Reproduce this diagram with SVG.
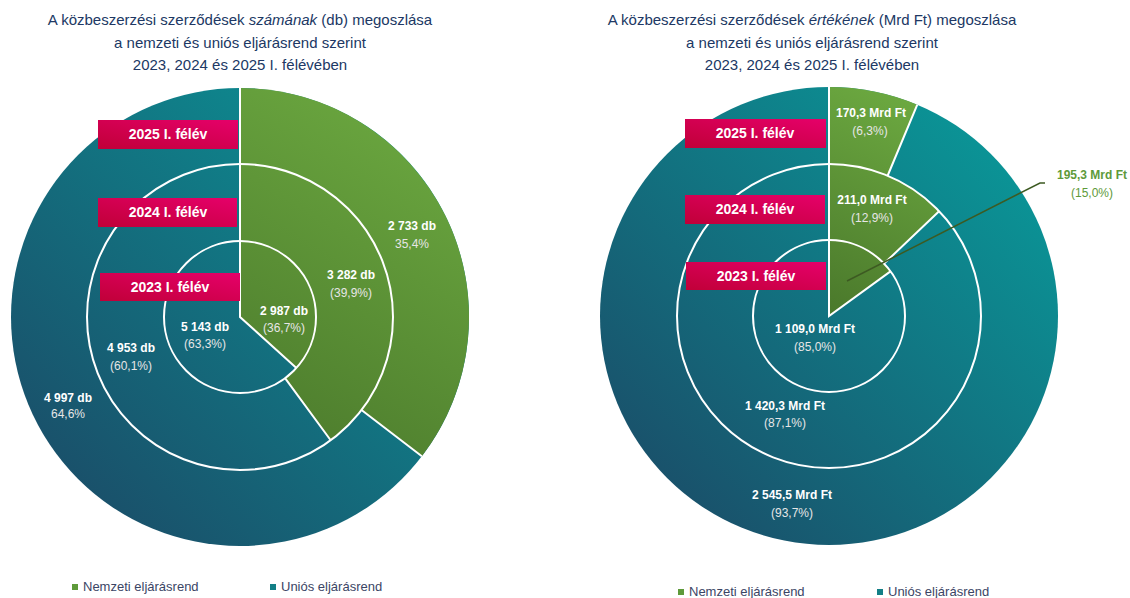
<svg xmlns="http://www.w3.org/2000/svg" width="1130" height="598" viewBox="0 0 1130 598">
<defs>
<linearGradient id="tealL" gradientUnits="userSpaceOnUse" x1="469" y1="88" x2="11" y2="546"><stop offset="0" stop-color="#0a9a9a"/><stop offset="1" stop-color="#1c4563"/></linearGradient>
<linearGradient id="greenL" gradientUnits="userSpaceOnUse" x1="469" y1="88" x2="240" y2="460"><stop offset="0" stop-color="#6fad42"/><stop offset="1" stop-color="#4a782b"/></linearGradient>
<linearGradient id="tealR" gradientUnits="userSpaceOnUse" x1="1058" y1="87" x2="600" y2="545"><stop offset="0" stop-color="#08a09e"/><stop offset="1" stop-color="#1c4563"/></linearGradient>
<linearGradient id="greenR" gradientUnits="userSpaceOnUse" x1="940" y1="90" x2="829" y2="316"><stop offset="0" stop-color="#6fad42"/><stop offset="1" stop-color="#4a782b"/></linearGradient>
<linearGradient id="box" x1="0" y1="1" x2="1" y2="0"><stop offset="0" stop-color="#c00038"/><stop offset="1" stop-color="#e6006a"/></linearGradient>
<style>
.title{font-family:"Liberation Sans",Arial,sans-serif;font-size:15px;fill:#203864;text-anchor:middle}
.sep{stroke:#fff;stroke-width:2;fill:none}
.bx{fill:url(#box)}
.bt{font-family:"Liberation Sans",Arial,sans-serif;font-size:14px;font-weight:bold;fill:#fff;text-anchor:middle}
.v{font-family:"Liberation Sans",Arial,sans-serif;font-size:12px;font-weight:bold;fill:#fff;text-anchor:middle}
.p{font-family:"Liberation Sans",Arial,sans-serif;font-size:12px;fill:#e6e6e6;text-anchor:middle}
.gv{font-family:"Liberation Sans",Arial,sans-serif;font-size:12px;font-weight:bold;fill:#5e9a3a;text-anchor:middle}
.gp{font-family:"Liberation Sans",Arial,sans-serif;font-size:12px;fill:#5e9a3a;text-anchor:middle}
.lg{font-family:"Liberation Sans",Arial,sans-serif;font-size:13px;fill:#3b4565}
</style>
</defs>
<rect width="1130" height="598" fill="#fff"/>

<g id="title-left">
<text class="title" x="240" y="25">A közbeszerzési szerződések <tspan font-style="italic">számának</tspan> (db) megoszlása</text>
<text class="title" x="240" y="48">a nemzeti és uniós eljárásrend szerint</text>
<text class="title" x="240" y="70">2023, 2024 és 2025 I. félévében</text>
</g>
<g id="title-right">
<text class="title" x="812" y="25">A közbeszerzési szerződések <tspan font-style="italic">értékének</tspan> (Mrd Ft) megoszlása</text>
<text class="title" x="812" y="48">a nemzeti és uniós eljárásrend szerint</text>
<text class="title" x="812" y="70">2023, 2024 és 2025 I. félévében</text>
</g>

<g id="left-2025">
<circle cx="240" cy="317" r="229" fill="url(#tealL)"/>
<path d="M240,317 L240,88 A229,229 0 0 1 421.85,456.21 Z" fill="url(#greenL)"/>
</g>
<g id="left-2024">
<circle cx="240" cy="317" r="153" fill="url(#tealL)"/>
<path d="M240,317 L240,164 A153,153 0 0 1 330.68,440.23 Z" fill="url(#greenL)"/>
</g>
<g id="left-2023">
<circle cx="240" cy="317" r="76" fill="url(#tealL)"/>
<path d="M240,317 L240,241 A76,76 0 0 1 296.38,367.97 Z" fill="url(#greenL)"/>
</g>
<g id="left-separators">
<circle class="sep" cx="240" cy="317" r="153"/>
<circle class="sep" cx="240" cy="317" r="76"/>
<path class="sep" d="M240,88 L240,317 L296.38,367.97 M285.05,378.21 L330.68,440.23 M361.5,410.01 L421.85,456.21"/>
</g>

<g id="right-2025">
<circle cx="829" cy="316" r="229" fill="url(#tealR)"/>
<path d="M829,316 L829,87 A229,229 0 0 1 917.3,104.7 Z" fill="url(#greenR)"/>
</g>
<g id="right-2024">
<circle cx="829" cy="316" r="152" fill="url(#tealR)"/>
<path d="M829,316 L829,164 A152,152 0 0 1 939.08,211.18 Z" fill="url(#greenR)"/>
</g>
<g id="right-2023">
<circle cx="829" cy="316" r="76" fill="url(#tealR)"/>
<path d="M829,316 L829,240 A76,76 0 0 1 890.49,271.33 Z" fill="url(#greenR)"/>
</g>
<g id="right-separators">
<circle class="sep" cx="829" cy="316" r="152"/>
<circle class="sep" cx="829" cy="316" r="76"/>
<path class="sep" d="M829,87 L829,316 L890.49,271.33 M884.04,263.59 L939.08,211.18 M887.61,175.75 L917.3,104.7"/>
</g>

<g id="connectors">
<path d="M847,281 L1040,183 L1045,183" fill="none" stroke="#3d5a22" stroke-width="1.5"/>
</g>

<g id="left-year-boxes">
<rect class="bx" x="98" y="120" width="140" height="29"/>
<text class="bt" x="168" y="139">2025 I. félév</text>
<rect class="bx" x="98" y="198" width="139" height="29"/>
<text class="bt" x="168" y="217">2024 I. félév</text>
<rect class="bx" x="100" y="273" width="140" height="28"/>
<text class="bt" x="170" y="292">2023 I. félév</text>
</g>
<g id="right-year-boxes">
<rect class="bx" x="685" y="119" width="141" height="29"/>
<text class="bt" x="755" y="138">2025 I. félév</text>
<rect class="bx" x="685" y="195" width="140" height="29"/>
<text class="bt" x="755" y="214">2024 I. félév</text>
<rect class="bx" x="686" y="262" width="140" height="28"/>
<text class="bt" x="756" y="281">2023 I. félév</text>
</g>

<g id="left-labels">
<text class="v" x="412" y="230">2 733 db</text><text class="p" x="412" y="248">35,4%</text>
<text class="v" x="351" y="279">3 282 db</text><text class="p" x="351" y="297">(39,9%)</text>
<text class="v" x="284" y="315">2 987 db</text><text class="p" x="284" y="332">(36,7%)</text>
<text class="v" x="205" y="331">5 143 db</text><text class="p" x="205" y="348">(63,3%)</text>
<text class="v" x="131" y="352">4 953 db</text><text class="p" x="131" y="370">(60,1%)</text>
<text class="v" x="68" y="402">4 997 db</text><text class="p" x="68" y="418">64,6%</text>
</g>
<g id="right-labels">
<text class="v" x="871" y="117">170,3 Mrd Ft</text><text class="p" x="870" y="135">(6,3%)</text>
<text class="v" x="872" y="204">211,0 Mrd Ft</text><text class="p" x="872" y="222">(12,9%)</text>
<text class="gv" x="1092" y="179">195,3 Mrd Ft</text><text class="gp" x="1092" y="197">(15,0%)</text>
<text class="v" x="815" y="333">1 109,0 Mrd Ft</text><text class="p" x="815" y="351">(85,0%)</text>
<text class="v" x="785" y="410">1 420,3 Mrd Ft</text><text class="p" x="785" y="427">(87,1%)</text>
<text class="v" x="792" y="499">2 545,5 Mrd Ft</text><text class="p" x="792" y="517">(93,7%)</text>
</g>

<g id="legend-left">
<rect x="72" y="584" width="6" height="6" fill="#5e9a3a"/>
<text class="lg" x="83" y="591">Nemzeti eljárásrend</text>
<rect x="270" y="584" width="6" height="6" fill="#137f86"/>
<text class="lg" x="281" y="591">Uniós eljárásrend</text>
</g>
<g id="legend-right">
<rect x="678" y="589" width="6" height="6" fill="#5e9a3a"/>
<text class="lg" x="689" y="596">Nemzeti eljárásrend</text>
<rect x="877" y="589" width="6" height="6" fill="#137f86"/>
<text class="lg" x="888" y="596">Uniós eljárásrend</text>
</g>
</svg>
